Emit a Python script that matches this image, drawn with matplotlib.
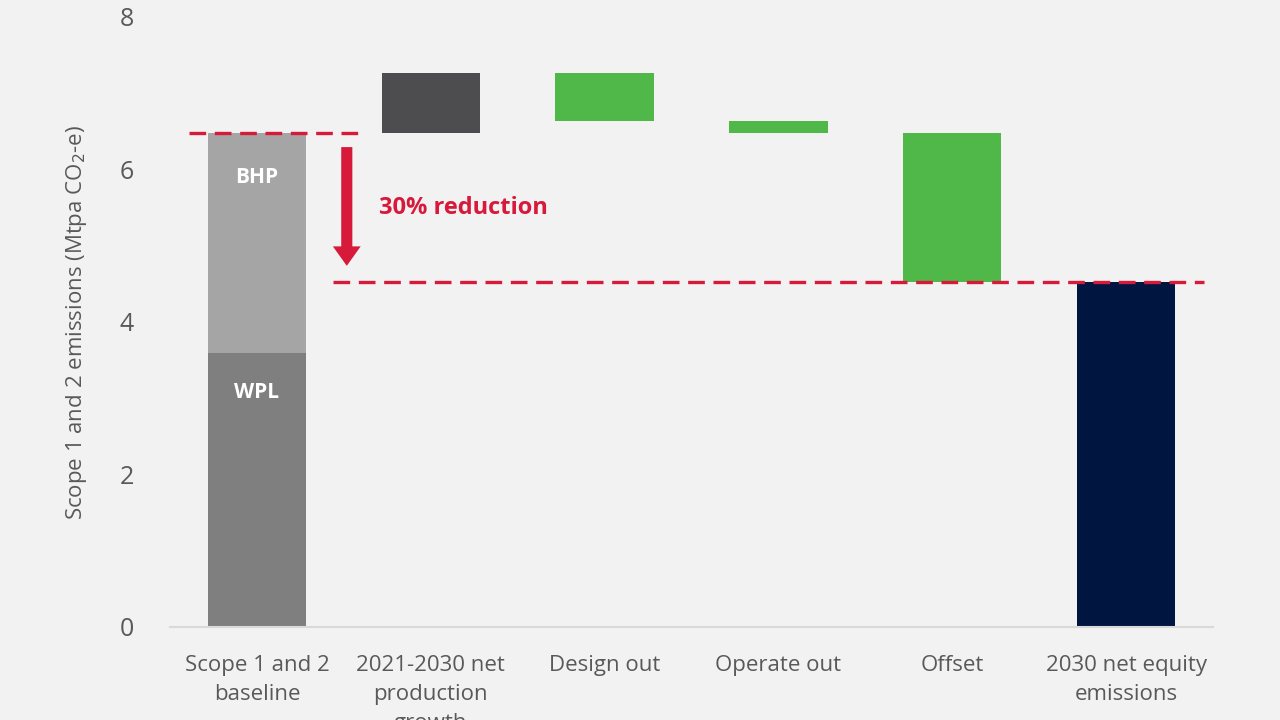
import matplotlib.pyplot as plt
import numpy as np

# data (Mtpa CO2-e)
categories = ['Scope 1 and 2\nbaseline', '2021-2030 net\nproduction\ngrowth',
              'Design out', 'Operate out', 'Offset', '2030 net equity\nemissions']
wpl = 3.59
bhp = 2.89
changes = [0.79, -0.63, -0.16, -1.96]   # growth, design out, operate out, offset
change_colors = ['#4d4d4f', '#50b848', '#50b848', '#50b848']

plt.rcParams['font.family'] = ['Open Sans', 'DejaVu Sans']
bg = '#f2f2f2'
txt = '#595959'
red = '#d7193a'

fig = plt.figure(figsize=(12.8, 7.2), dpi=100, facecolor=bg)
ax = fig.add_axes([0.1328, 0.1292, 0.8149, 0.8472], facecolor=bg)

x = np.arange(len(categories))
w = 0.565
baseline = wpl + bhp

# baseline stack
ax.bar(x[0], wpl, width=w, color='#7f7f7f')
ax.bar(x[0], bhp, bottom=wpl, width=w, color='#a5a5a5')
ax.text(x[0], 3.08, 'WPL', color='white', fontsize=15, fontweight='bold',
        ha='center', va='center')
ax.text(x[0], 5.9, 'BHP', color='white', fontsize=15, fontweight='bold',
        ha='center', va='center')

# floating steps
level = baseline
for i, (c, col) in enumerate(zip(changes, change_colors)):
    new = level + c
    ax.bar(x[i + 1], abs(c), bottom=min(level, new), width=w, color=col)
    level = new

final = level
ax.bar(x[-1], final, width=w, color='#001641')

# target lines and arrow
ax.plot([-0.39, 0.59], [baseline, baseline], color=red, lw=2.4, dashes=(5, 2.6))
ax.plot([0.44, 5.45], [final, final], color=red, lw=2.4, dashes=(5, 2.6))
ax.annotate('', xy=(0.517, final + 0.18), xytext=(0.517, baseline - 0.15),
            arrowprops=dict(arrowstyle='simple,head_width=2.0,head_length=1.4,tail_width=0.8',
                            color=red, lw=0))
ax.text(0.70, 5.5, f'{(baseline - final) / baseline:.0%} reduction', color=red,
        fontsize=17, fontweight='bold', ha='left', va='center')

ax.set_xlim(-0.5, 5.5)
ax.set_ylim(0, 8)
ax.set_yticks([0, 2, 4, 6, 8])
ax.set_xticks(x)
ax.set_xticklabels(categories, fontsize=16, color=txt, linespacing=1.5)
ax.tick_params(axis='y', labelsize=18, colors=txt, length=0, pad=26)
ax.tick_params(axis='x', length=0, pad=20)
ax.set_ylabel('Scope 1 and 2 emissions (Mtpa CO$_2$-e)', fontsize=16, color=txt, labelpad=22)

for s in ['top', 'right', 'left']:
    ax.spines[s].set_visible(False)
ax.spines['bottom'].set_color('#d9d9d9')
ax.spines['bottom'].set_linewidth(1.5)

fig.savefig('out.png', dpi=100, facecolor=bg)
